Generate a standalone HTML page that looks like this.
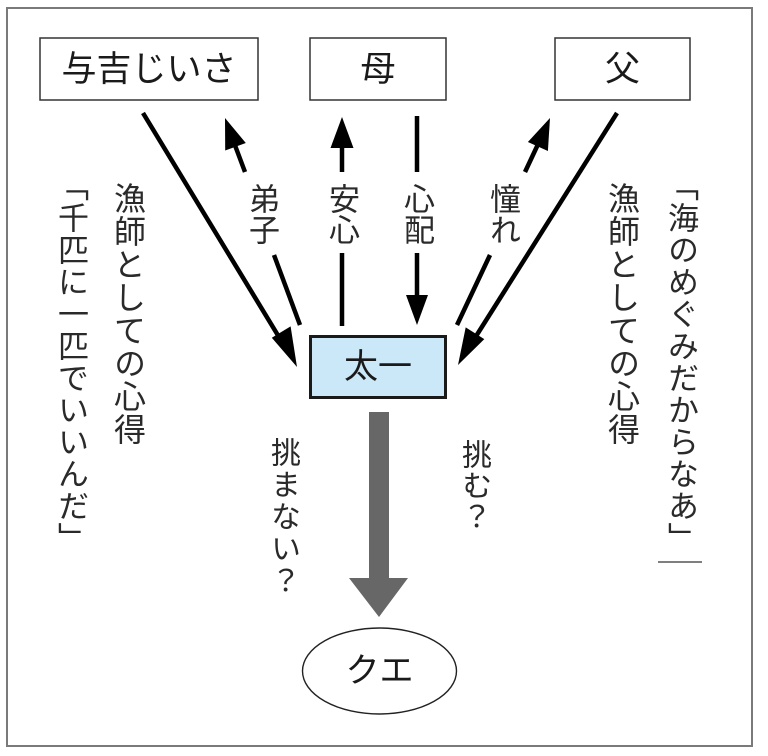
<!DOCTYPE html>
<html><head><meta charset="utf-8">
<style>
html,body{margin:0;padding:0;background:#fff;}
#wrap{position:relative;width:768px;height:756px;overflow:hidden;background:#fff;}
svg{position:absolute;left:0;top:0;}
.v{position:absolute;writing-mode:vertical-rl;white-space:nowrap;font-family:"Liberation Sans","Noto Sans CJK JP",sans-serif;color:#2a2a2a;}
.h{position:absolute;white-space:nowrap;font-family:"Liberation Sans","Noto Sans CJK JP",sans-serif;color:#1a1a1a;text-align:center;}
</style></head>
<body><div id="wrap">
<svg width="768" height="756" viewBox="0 0 768 756">
  <rect x="7" y="8" width="745" height="738" fill="none" stroke="#7a7a7a" stroke-width="2"/>
  <rect x="40" y="38" width="218" height="62" fill="#fff" stroke="#333" stroke-width="1.5"/>
  <rect x="310" y="38" width="136" height="62" fill="#fff" stroke="#333" stroke-width="1.5"/>
  <rect x="555" y="38" width="135" height="62" fill="#fff" stroke="#333" stroke-width="1.5"/>
  <rect x="310.5" y="336.5" width="135" height="61" fill="#cbe8f8" stroke="#1a1a1a" stroke-width="3"/>
  <g stroke="#000" stroke-width="4.5" stroke-linecap="butt">
    <line x1="143" y1="113" x2="282" y2="342"/>
    <line x1="617" y1="113" x2="473" y2="341"/>
    <line x1="300" y1="325" x2="274" y2="255"/>
    <line x1="245" y1="172" x2="233" y2="140"/>
    <line x1="342" y1="326" x2="342" y2="253"/>
    <line x1="342" y1="172" x2="342" y2="145"/>
    <line x1="417" y1="116" x2="417" y2="172"/>
    <line x1="417" y1="253" x2="417" y2="298"/>
    <line x1="457" y1="325" x2="490" y2="255"/>
    <line x1="525" y1="172" x2="540" y2="140"/>
  </g>
  <g fill="#000">
    <polygon points="297,367 271.8,337.8 290.6,326.4"/>
    <polygon points="458,365 465.7,327.4 484.3,339.1"/>
    <polygon points="225,118 225.2,150.5 245.8,143"/>
    <polygon points="342,117 330.5,148 353.5,148"/>
    <polygon points="417,325 406,295 428,295"/>
    <polygon points="550,118 527.9,142 547.9,151"/>
  </g>
  <polygon points="369,412 389,412 389,578 408,578 379,617 349,578 369,578" fill="#676767"/>
  <ellipse cx="379.5" cy="671" rx="77" ry="43" fill="#fff" stroke="#222" stroke-width="1.4"/>
  <line x1="658" y1="562" x2="702" y2="562" stroke="#333" stroke-width="1.2"/>
</svg>

<div class="h" style="left:40px;top:48px;width:218px;font-size:35px;line-height:44px;">与吉じいさ</div>
<div class="h" style="left:310px;top:48px;width:136px;font-size:35px;line-height:44px;">母</div>
<div class="h" style="left:555px;top:48px;width:135px;font-size:35px;line-height:44px;">父</div>
<div class="h" style="left:310px;top:346px;width:136px;font-size:34px;line-height:42px;">太一</div>
<div class="h" style="left:302px;top:650px;width:155px;font-size:34px;line-height:42px;">クエ</div>

<div class="v" style="left:54px;top:170px;font-size:31px;line-height:32px;letter-spacing:1px;">「千匹に一匹でいいんだ」</div>
<div class="v" style="left:112px;top:182px;font-size:32px;line-height:32px;letter-spacing:1px;">漁師としての心得</div>
<div class="v" style="left:246px;top:183px;font-size:31px;line-height:31px;">弟子</div>
<div class="v" style="left:326px;top:183px;font-size:31px;line-height:31px;">安心</div>
<div class="v" style="left:401px;top:183px;font-size:31px;line-height:31px;">心配</div>
<div class="v" style="left:487px;top:183px;font-size:31px;line-height:31px;">憧れ</div>
<div class="v" style="left:606px;top:182px;font-size:32px;line-height:32px;letter-spacing:1px;">漁師としての心得</div>
<div class="v" style="left:664px;top:170px;font-size:31px;line-height:32px;letter-spacing:1px;">「海のめぐみだからなあ」</div>
<div class="v" style="left:267px;top:437px;font-size:30px;line-height:30px;letter-spacing:2px;">挑まない？</div>
<div class="v" style="left:458px;top:439px;font-size:30px;line-height:30px;letter-spacing:1px;">挑む？</div>
</div></body></html>
